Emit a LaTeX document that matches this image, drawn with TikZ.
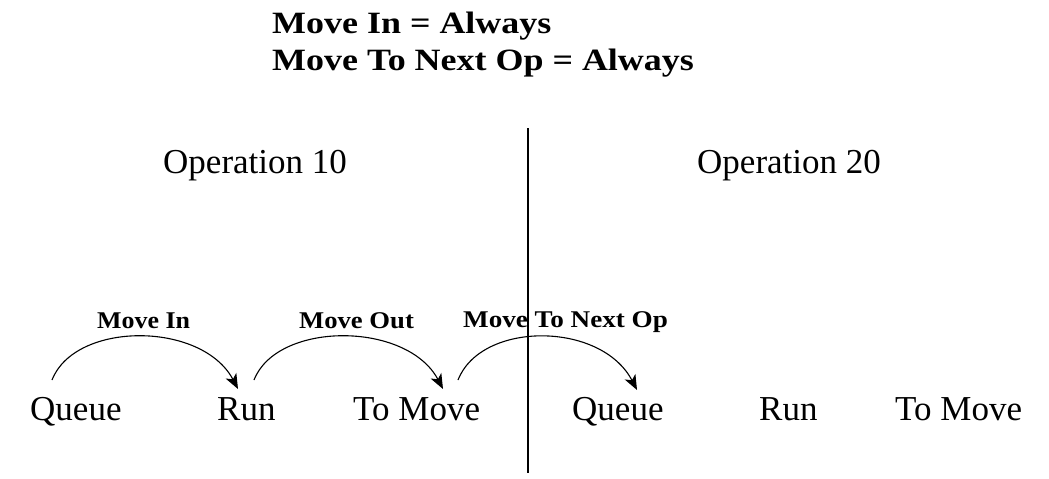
\documentclass[tikz,border=0pt]{standalone}
\usepackage{fontspec}
\setmainfont{Liberation Serif}
\usetikzlibrary{arrows.meta}
\begin{document}
\begin{tikzpicture}[x=1pt,y=-1pt,
  title/.style={anchor=base west,inner sep=0pt,font=\fontsize{31}{36}\selectfont\bfseries},
  lbl/.style={anchor=base west,inner sep=0pt,font=\fontsize{24}{28}\selectfont\bfseries},
  txt/.style={anchor=base west,inner sep=0pt,font=\fontsize{35}{40}\selectfont},
  arc/.style={line width=1.1pt,-{Stealth[length=15pt,width=12pt,inset=4pt]}}]
\useasboundingbox (0,0) rectangle (1049,479);
\node[title] (t1) at (272,33) {\scalebox{1.16}[1]{Move In = Always}};
\node[title] (t2) at (272,70) {\scalebox{1.16}[1]{Move To Next Op = Always}};
\node[txt] (op1) at (163,173) {Operation 10};
\node[txt] (op2) at (697,173) {Operation 20};
\coordinate (ltop) at (528,128);
\coordinate (lbot) at (528,473);
\draw[line width=1.1pt] (ltop) -- (lbot);
\node[txt] (q1) at (30,420) {Queue};
\node[txt] (r1) at (217,420) {Run};
\node[txt] (m1) at (353,420) {To Move};
\node[txt] (q2) at (572,420) {Queue};
\node[txt] (r2) at (759,420) {Run};
\node[txt] (m2) at (895,420) {To Move};
\node[lbl] (l1) at (97,328) {\scalebox{1.08}[1]{Move In}};
\node[lbl] (l2) at (299,328) {\scalebox{1.11}[1]{Move Out}};
\node[lbl] (l3) at (463,327) {\scalebox{1.13}[1]{Move To Next Op}};
\coordinate (s1) at (52,380);
\coordinate (e1) at (238,389);
\coordinate (s2) at (254,380);
\coordinate (e2) at (443,389);
\coordinate (s3) at (458,380);
\coordinate (e3) at (637,390);
\draw[arc] (s1) .. controls (75,321) and (202,321) .. (e1);
\draw[arc] (s2) .. controls (277,321) and (407,321) .. (e2);
\draw[arc] (s3) .. controls (481,321) and (601,321) .. (e3);
\end{tikzpicture}
\end{document}
